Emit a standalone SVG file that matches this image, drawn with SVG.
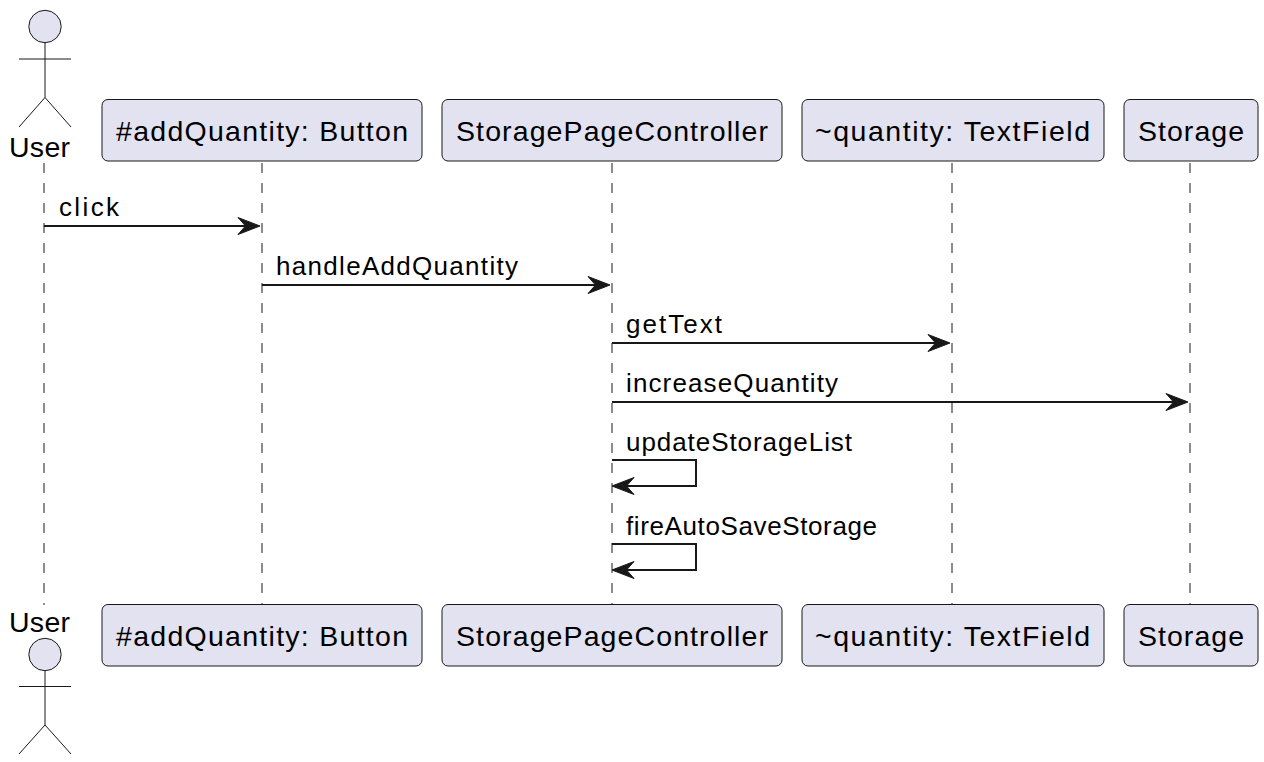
<svg xmlns="http://www.w3.org/2000/svg" width="1264" height="762" viewBox="0 0 1264 762">
<style>
.life{stroke:#8c8c8c;stroke-width:2;stroke-dasharray:10 10;fill:none}
.box{fill:#E2E2F0;stroke:#181818;stroke-width:1}
.actor{fill:#E2E2F0;stroke:#181818;stroke-width:1}
.limb{fill:none;stroke:#181818;stroke-width:1}
text{font-family:"Liberation Sans",Arial,sans-serif;fill:#000}
.n{font-size:28.500px}
.m{font-size:26px}
.c{fill:none;stroke:#181818;stroke-width:2}
.h{fill:#181818;stroke:#181818;stroke-width:1}
</style>
<defs>
<path id="ar" class="h" d="M0 0l-22-8.500l7.500 8.500l-7.500 8.500z"/>
<path id="al" class="h" d="M0 0l22-8.500l-7.500 8.500l7.500 8.500z"/>
</defs>
<rect width="1264" height="762" fill="#fff"/>
<g id="lifelines">
<line class="life" x1="44" y1="163" x2="44" y2="605"/>
<line class="life" x1="262" y1="163" x2="262" y2="605"/>
<line class="life" x1="612" y1="163" x2="612" y2="605"/>
<line class="life" x1="952" y1="163" x2="952" y2="605"/>
<line class="life" x1="1190" y1="163" x2="1190" y2="605"/>
</g>
<g id="connectors">
<line class="c" x1="44" y1="226" x2="248" y2="226"/><use href="#ar" x="260" y="226"/>
<line class="c" x1="262" y1="285" x2="598" y2="285"/><use href="#ar" x="610" y="285"/>
<line class="c" x1="612" y1="343" x2="938" y2="343"/><use href="#ar" x="950" y="343"/>
<line class="c" x1="612" y1="402" x2="1176" y2="402"/><use href="#ar" x="1188" y="402"/>
<path class="c" d="M612 460H696V486H624"/><use href="#al" x="612" y="486"/>
<path class="c" d="M612 544H696V570H624"/><use href="#al" x="612" y="570"/>
</g>
<g id="labels">
<text class="m" x="59" y="216" textLength="60" lengthAdjust="spacing">click</text>
<text class="m" x="276" y="275" textLength="242" lengthAdjust="spacing">handleAddQuantity</text>
<text class="m" x="626" y="333" textLength="96" lengthAdjust="spacing">getText</text>
<text class="m" x="626" y="392" textLength="212" lengthAdjust="spacing">increaseQuantity</text>
<text class="m" x="626" y="451" textLength="226" lengthAdjust="spacing">updateStorageList</text>
<text class="m" x="626" y="535" textLength="251" lengthAdjust="spacing">fireAutoSaveStorage</text>
</g>
<g id="user-top">
<circle class="actor" cx="45" cy="26.500" r="16.200"/>
<path class="limb" d="M45 42.700V97.500M19 59H71M45 97.500L19 127M45 97.500L71 127"/>
<text class="n" x="9" y="157" textLength="61" lengthAdjust="spacing">User</text>
</g>
<g id="user-bottom">
<text class="n" x="9" y="632" textLength="61" lengthAdjust="spacing">User</text>
<circle class="actor" cx="45" cy="654.500" r="16.200"/>
<path class="limb" d="M45 670.700V725M19 686.500H71M45 725L19 754M45 725L71 754"/>
</g>
<g id="button-top"><rect class="box" x="102" y="99.500" width="320" height="61.500" rx="6"/><text class="n" x="116" y="141" textLength="292" lengthAdjust="spacing">#addQuantity: Button</text></g>
<g id="controller-top"><rect class="box" x="442" y="99.500" width="340" height="61.500" rx="6"/><text class="n" x="456" y="141" textLength="312" lengthAdjust="spacing">StoragePageController</text></g>
<g id="textfield-top"><rect class="box" x="802" y="99.500" width="302" height="61.500" rx="6"/><text class="n" x="815" y="141" textLength="275" lengthAdjust="spacing">~quantity: TextField</text></g>
<g id="storage-top"><rect class="box" x="1124" y="99.500" width="134" height="61.500" rx="6"/><text class="n" x="1138" y="141" textLength="106" lengthAdjust="spacing">Storage</text></g>
<g id="button-bottom"><rect class="box" x="102" y="604.500" width="320" height="61.500" rx="6"/><text class="n" x="116" y="646" textLength="292" lengthAdjust="spacing">#addQuantity: Button</text></g>
<g id="controller-bottom"><rect class="box" x="442" y="604.500" width="340" height="61.500" rx="6"/><text class="n" x="456" y="646" textLength="312" lengthAdjust="spacing">StoragePageController</text></g>
<g id="textfield-bottom"><rect class="box" x="802" y="604.500" width="302" height="61.500" rx="6"/><text class="n" x="815" y="646" textLength="275" lengthAdjust="spacing">~quantity: TextField</text></g>
<g id="storage-bottom"><rect class="box" x="1124" y="604.500" width="134" height="61.500" rx="6"/><text class="n" x="1138" y="646" textLength="106" lengthAdjust="spacing">Storage</text></g>
</svg>
